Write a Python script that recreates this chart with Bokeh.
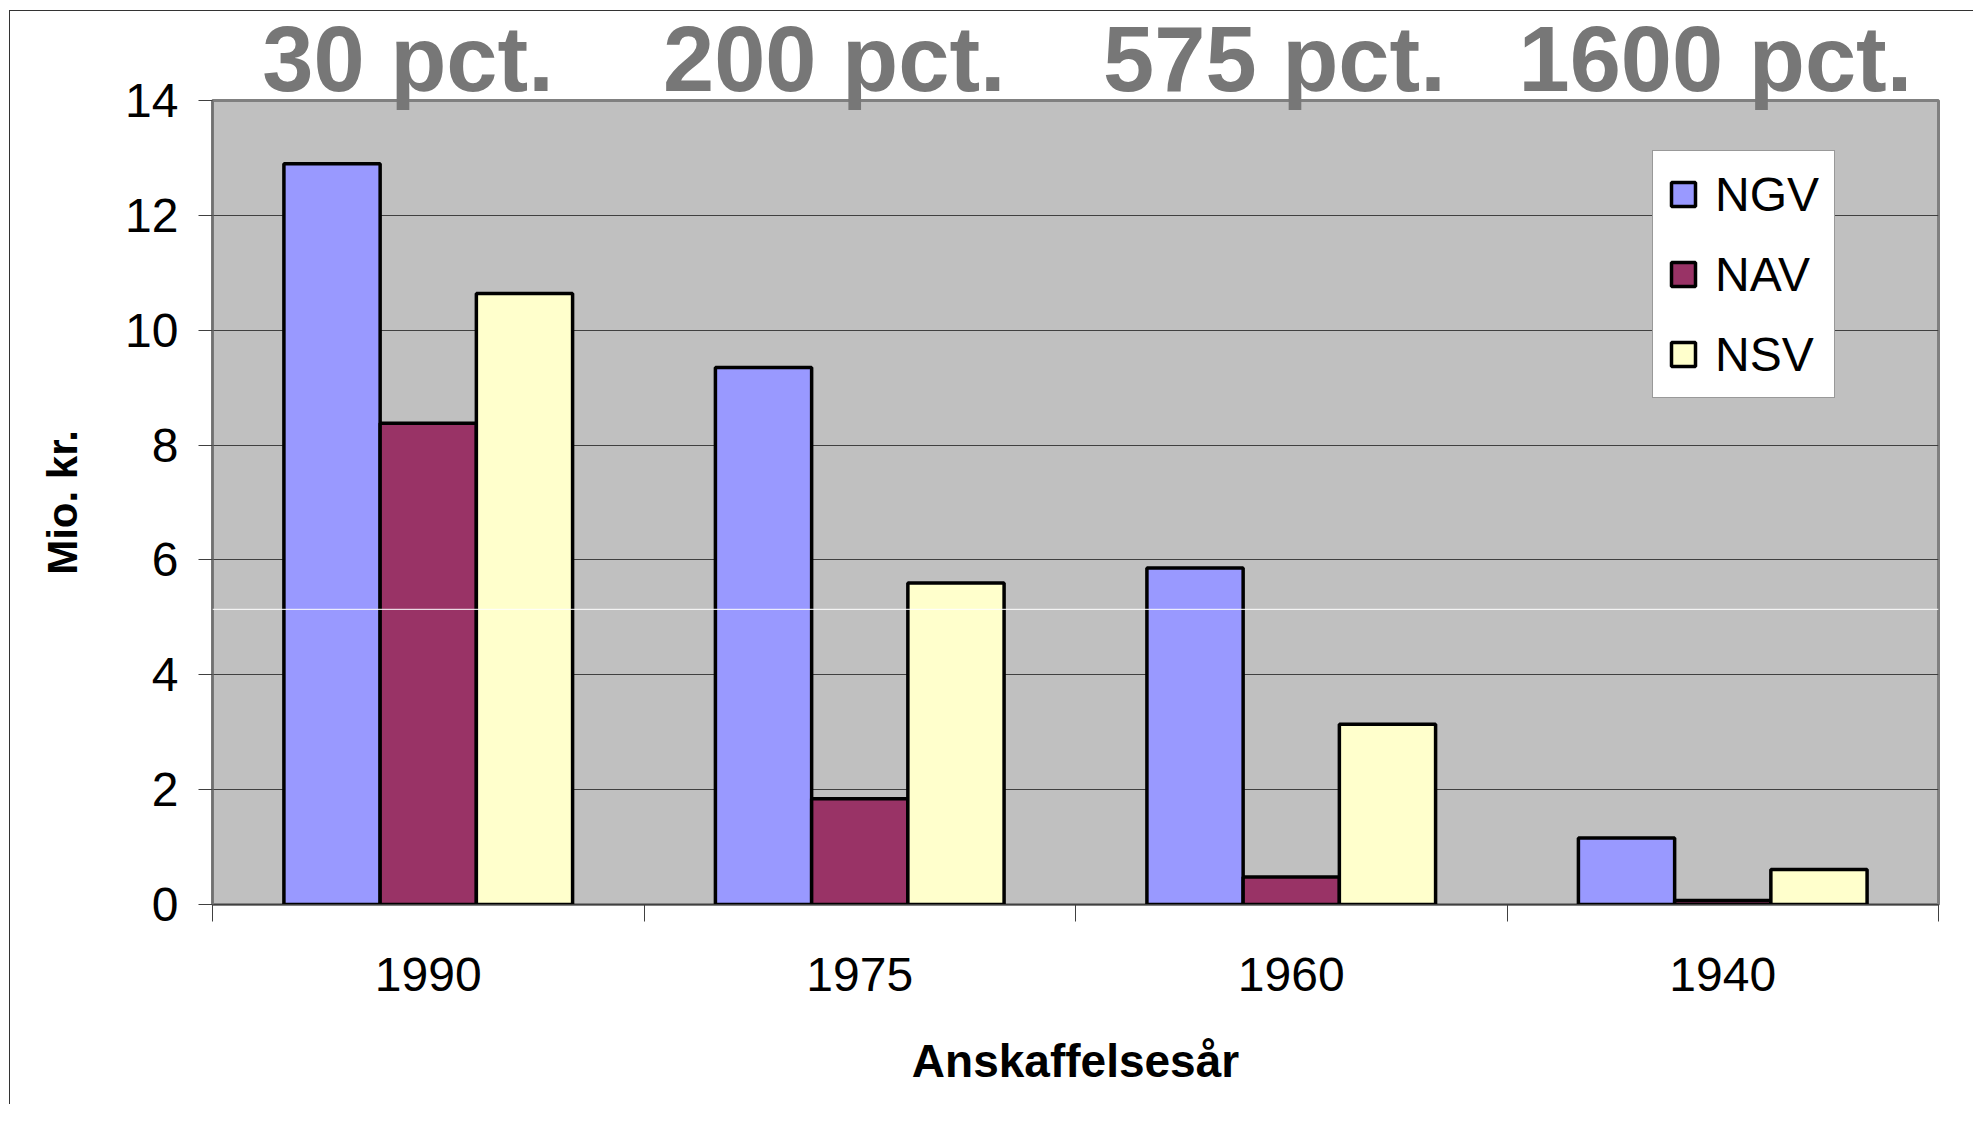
from bokeh.plotting import figure
from bokeh.layouts import column
from bokeh.models import (ColumnDataSource, FixedTicker, Legend, LegendItem,
                          Span, Range1d, LinearAxis)
from bokeh.transform import dodge
from bokeh.embed import file_html
from bokeh.resources import INLINE

# ---- data ----
years = ["1990", "1975", "1960", "1940"]
pct_labels = ["30 pct.", "200 pct.", "575 pct.", "1600 pct."]
series_names = ["NGV", "NAV", "NSV"]
ngv = [12.90, 9.35, 5.86, 1.16]
nav = [8.38, 1.84, 0.48, 0.07]
nsv = [10.64, 5.60, 3.14, 0.61]
y_ticks = [0, 2, 4, 6, 8, 10, 12, 14]
y_max = 14

# ---- styling ----
colors = ["#9999FF", "#993366", "#FFFFCC"]
FONT = "Liberation Sans"
BAR_W = 0.223
HDR_SHIFTS = [-0.047, -0.059, -0.039, -0.017]   # header text nudges (category units)

n = len(years)
centers = [i + 0.5 for i in range(n)]
edges = [i for i in range(n + 1)]

src = ColumnDataSource(dict(x=centers, year=years, NGV=ngv, NAV=nav, NSV=nsv))

p = figure(width=1963, height=1100, output_backend="svg", toolbar_location=None,
           x_range=Range1d(0, n), y_range=Range1d(0, y_max),
           min_border_left=202, min_border_right=35, min_border_top=89,
           min_border_bottom=200,
           background_fill_color="#C0C0C0", border_fill_color="white",
           border_fill_alpha=0.0,
           styles={"margin-top": "-7px"})

p.outline_line_color = "#808080"
p.outline_line_width = 3

renderers = []
for name, col, off in zip(series_names, colors, [-BAR_W, 0.0, BAR_W]):
    r = p.vbar(x=dodge("x", off, range=p.x_range), top=name, width=BAR_W,
               source=src, fill_color=col, line_color="black", line_width=3.5)
    renderers.append(r)

# grid
p.xgrid.grid_line_color = None
p.ygrid.ticker = FixedTicker(ticks=y_ticks)
p.ygrid.grid_line_color = "#404040"
p.ygrid.grid_line_width = 1

# thin white line visible in the reference
p.add_layout(Span(location=5.14, dimension="width", line_color="white",
                  line_width=1))

# x axis: labels at centres, tick marks at category boundaries
xa = p.xaxis[0]
xa.ticker = FixedTicker(ticks=centers, minor_ticks=edges)
xa.major_label_overrides = {c: y for c, y in zip(centers, years)}
xa.major_tick_out = 0
xa.major_tick_in = 0
xa.minor_tick_out = 17
xa.minor_tick_in = 0
xa.minor_tick_line_color = "#404040"
xa.axis_line_color = "#404040"
xa.major_label_text_font = FONT
xa.major_label_text_font_size = "48px"
xa.major_label_text_color = "black"
xa.major_label_standoff = 36
xa.axis_label = "Anskaffelsesår"
xa.axis_label_text_font = FONT
xa.axis_label_text_font_size = "46px"
xa.axis_label_text_font_style = "bold"
xa.axis_label_text_color = "black"
xa.axis_label_standoff = 41

ya = p.yaxis[0]
ya.ticker = FixedTicker(ticks=y_ticks)
ya.major_tick_out = 14
ya.major_tick_in = 0
ya.major_tick_line_color = "#404040"
ya.minor_tick_line_color = None
ya.axis_line_color = "#707070"
ya.axis_line_width = 2
ya.major_label_text_font = FONT
ya.major_label_text_font_size = "48px"
ya.major_label_text_color = "black"
ya.major_label_standoff = 20
ya.axis_label = "Mio. kr."
ya.axis_label_text_font = FONT
ya.axis_label_text_font_size = "42px"
ya.axis_label_text_font_style = "bold"
ya.axis_label_text_color = "black"
ya.axis_label_standoff = 36

# percentage headers above each group, drawn as an axis above the frame
p.extra_x_ranges = {"hdr": Range1d(0, n)}
hdr_pos = [c + s for c, s in zip(centers, HDR_SHIFTS)]
hdr = LinearAxis(x_range_name="hdr", ticker=FixedTicker(ticks=hdr_pos),
                 major_label_overrides={c: t for c, t in zip(hdr_pos, pct_labels)},
                 major_tick_out=0, major_tick_in=0, axis_line_color=None,
                 minor_tick_line_color=None, major_tick_line_color=None,
                 major_label_text_font=FONT, major_label_text_font_size="92px",
                 major_label_text_font_style="bold",
                 major_label_text_color="#777777",
                 major_label_standoff=-9)
p.add_layout(hdr, "above")

legend = Legend(items=[LegendItem(label=s, renderers=[r])
                       for s, r in zip(series_names, renderers)],
                location=(1440, 506), orientation="vertical",
                label_text_font=FONT, label_text_font_size="48px",
                label_text_color="black",
                glyph_width=30, glyph_height=30, label_standoff=17,
                label_height=56, spacing=24, padding=15, margin=0,
                border_line_color="#333333", border_line_width=1,
                background_fill_color="white", background_fill_alpha=1.0)
p.add_layout(legend)

page = column(p, styles={"border-top": "1px solid #333333",
                         "border-left": "1px solid #333333",
                         "margin-left": "9px", "margin-top": "10px"})

open("out.html", "w").write(file_html(page, INLINE))
